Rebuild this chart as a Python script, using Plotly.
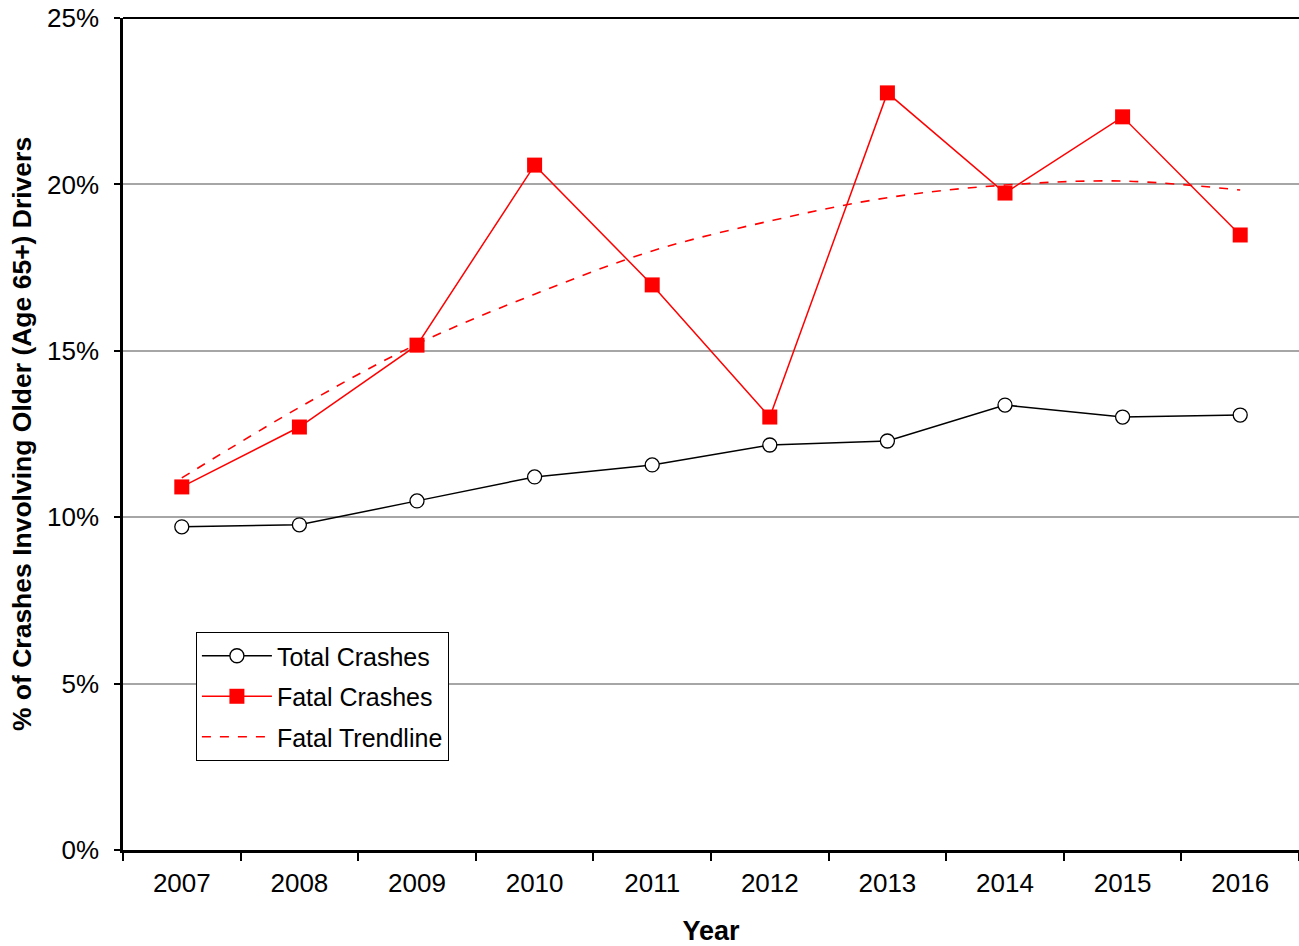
import plotly.graph_objects as go

years = ["2007", "2008", "2009", "2010", "2011", "2012", "2013", "2014", "2015", "2016"]
total_crashes = [9.71, 9.77, 10.49, 11.21, 11.57, 12.17, 12.29, 13.37, 13.01, 13.07]
fatal_crashes = [10.91, 12.71, 15.17, 20.58, 16.98, 13.01, 22.75, 19.74, 22.03, 18.48]
fatal_trend = [11.18, 13.3, 15.2, 16.7, 18.0, 18.9, 19.6, 19.98, 20.1, 19.83]
y_ticks = [0, 5, 10, 15, 20, 25]
y_tick_labels = ["0%", "5%", "10%", "15%", "20%", "25%"]

FONT = "Liberation Sans, Arial, sans-serif"

fig = go.Figure()
fig.add_trace(go.Scatter(
    x=years, y=fatal_trend, name="Fatal Trendline", mode="lines",
    line=dict(color="#ff0000", width=1.6, dash="dash", shape="spline", smoothing=1.0),
    legendgroup="c", legendrank=3,
))
fig.add_trace(go.Scatter(
    x=years, y=total_crashes, name="Total Crashes", mode="lines+markers",
    line=dict(color="black", width=1.5),
    marker=dict(symbol="circle", size=14, color="white", line=dict(color="black", width=1.3)),
    legendgroup="a", legendrank=1,
))
fig.add_trace(go.Scatter(
    x=years, y=fatal_crashes, name="Fatal Crashes", mode="lines+markers",
    line=dict(color="#ff0000", width=1.5),
    marker=dict(symbol="square", size=15, color="#ff0000", line=dict(width=0)),
    legendgroup="b", legendrank=2,
))

fig.update_layout(
    width=1299, height=946,
    margin=dict(l=123, r=0, t=18, b=96, autoexpand=False),
    paper_bgcolor="white", plot_bgcolor="white",
    font=dict(family=FONT, size=26, color="black"),
    showlegend=True,
    legend=dict(
        x=0.062, y=0.262, xanchor="left", yanchor="top",
        bgcolor="white", bordercolor="black", borderwidth=1,
        font=dict(size=25), tracegroupgap=5, traceorder="grouped",
        itemwidth=70,
    ),
    xaxis=dict(
        type="category", range=[-0.5, 9.5], tickson="boundaries",
        ticks="outside", ticklen=8, tickwidth=1.5, tickcolor="black",
        showline=True, linecolor="black", linewidth=2.5,
        showgrid=False, zeroline=False, automargin=False,
        tickfont=dict(size=26), ticklabelstandoff=8,
        title=dict(text="<b>Year</b>", font=dict(size=27), standoff=27),
    ),
    yaxis=dict(
        range=[0, 25], tickvals=y_ticks, ticktext=y_tick_labels,
        ticks="outside", ticklen=6, tickwidth=1.5, tickcolor="black",
        showline=True, linecolor="black", linewidth=2.5,
        showgrid=True, gridcolor="#a6a6a6", gridwidth=1.5,
        zeroline=False, automargin=False, tickfont=dict(size=26), ticklabelstandoff=10,
        title=dict(text="<b>% of Crashes Involving Older (Age 65+) Drivers</b>", font=dict(size=26.5), standoff=8),
    ),
)
fig.add_shape(type="line", xref="paper", yref="paper", x0=0, x1=1, y0=1, y1=1,
              line=dict(color="black", width=2))

fig.write_html("out.html", config={"displayModeBar": False},
               post_script="document.body.style.margin='0';")
